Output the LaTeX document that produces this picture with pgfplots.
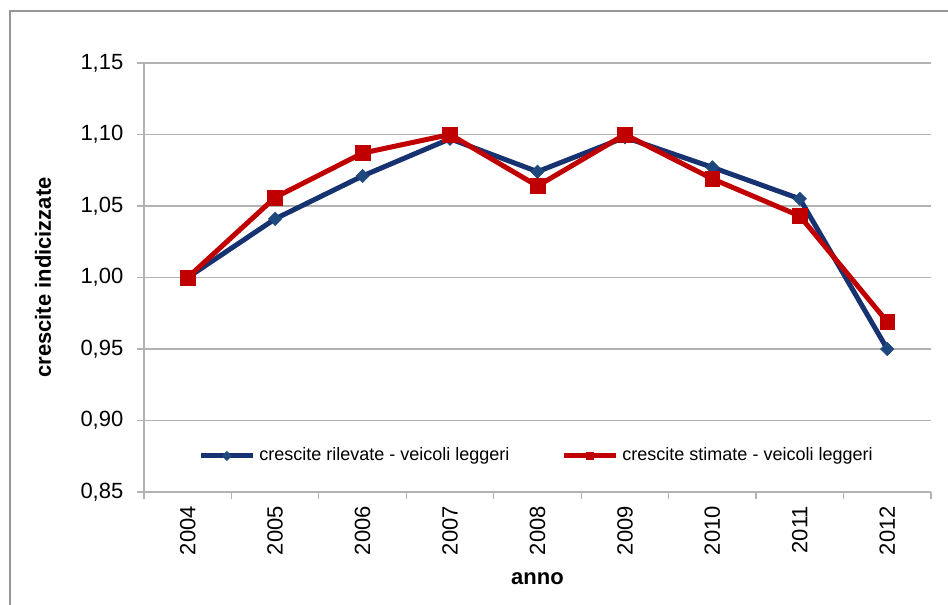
\documentclass[border=0pt]{standalone}
\usepackage{pgfplots}
\pgfplotsset{compat=1.18}
\usetikzlibrary{calc}
\usepackage{fontspec}
\setmainfont{Liberation Sans}

\definecolor{rilBlue}{RGB}{22,50,112}
\definecolor{rilMark}{RGB}{31,73,125}
\definecolor{stiRed}{RGB}{192,0,0}
\definecolor{gridGray}{RGB}{178,178,178}
\definecolor{frameGray}{RGB}{150,150,150}

\begin{document}
\begin{tikzpicture}
  \begin{axis}[
    scale only axis,
    width=393.5pt, height=214.5pt,
    xmin=-0.5, xmax=8.5,
    ymin=0.85, ymax=1.15,
    xtick={0,...,8},
    xticklabels={2004,2005,2006,2007,2008,2009,2010,2011,2012},
    minor xtick={-0.5,0.5,...,8.5},
    x tick label style={rotate=90, anchor=east, font=\fontsize{11}{13}\selectfont},
    ytick={0.85,0.90,...,1.151},
    y tick label style={font=\fontsize{11}{13}\selectfont, xshift=-3.3pt},
    yticklabel={\pgfmathprintnumber[fixed,fixed zerofill,precision=2,use comma]{\tick}},
    /pgf/number format/assume math mode=true,
    axis x line*=bottom, axis y line*=left,
    axis line style={gridGray, line width=0.6pt},
    x axis line style={-}, y axis line style={-},
    major x tick style={draw=none},
    minor x tick style={gridGray, line width=0.6pt},
    major y tick style={gridGray, line width=0.6pt},
    tick align=outside,
    major tick length=3.5pt, minor tick length=3.5pt,
    ymajorgrids,
    major grid style={gridGray, line width=0.6pt},
    xlabel={\textbf{anno}},
    ylabel={\textbf{crescite indicizzate}},
    every axis x label/.style={at={(rel axis cs:0.5,0)}, yshift=-43.5pt,
      anchor=center, font=\fontsize{11}{13}\selectfont},
    every axis y label/.style={at={(rel axis cs:0,0.5)}, xshift=-50.5pt,
      rotate=90, anchor=center, font=\fontsize{11}{13}\selectfont},
    legend columns=2,
    legend style={draw=none, fill=none, at={(0.5,0.084)}, anchor=center,
      font=\fontsize{9}{11}\selectfont,
      /tikz/every even column/.append style={column sep=24pt}},
    legend cell align=left,
    legend image code/.code={
      \draw[#1, mark=none] (0pt,0pt) -- (26pt,0pt);
      \draw[#1, only marks, mark size=1.6pt] plot coordinates {(13pt,0pt)};
    },
  ]
    \coordinate (SW) at (rel axis cs:0,0);

    % surveyed growth: square marks turned into diamonds
    \addplot[rilBlue, line width=2.5pt,
      mark=square*, mark size=2.35pt,
      mark options={rotate=45, fill=rilMark, draw=rilMark, line width=0.3pt}]
      coordinates {
        (0,1.000) (1,1.041) (2,1.071) (3,1.097) (4,1.074)
        (5,1.098) (6,1.077) (7,1.055) (8,0.950)
      };
    \addlegendentry{crescite rilevate - veicoli leggeri}

    % estimated growth
    \addplot[stiRed, line width=2.5pt,
      mark=square*, mark size=3.7pt,
      mark options={fill=stiRed, draw=stiRed, line width=0.3pt}]
      coordinates {
        (0,1.000) (1,1.056) (2,1.087) (3,1.100) (4,1.064)
        (5,1.100) (6,1.069) (7,1.043) (8,0.969)
      };
    \addlegendentry{crescite stimate - veicoli leggeri}
  \end{axis}

  % page extent and outer chart frame (only its top and left edges show)
  \pgfresetboundingbox
  \coordinate (PSW) at ($(SW)+(-72pt,-56.5pt)$);
  \path[use as bounding box] (PSW) rectangle ++(474pt,302.5pt);
  \draw[frameGray, line width=0.6pt]
    ($(PSW)+(5pt,0)$) -- ($(PSW)+(5pt,297pt)$) -- ($(PSW)+(474pt,297pt)$);
\end{tikzpicture}
\end{document}
